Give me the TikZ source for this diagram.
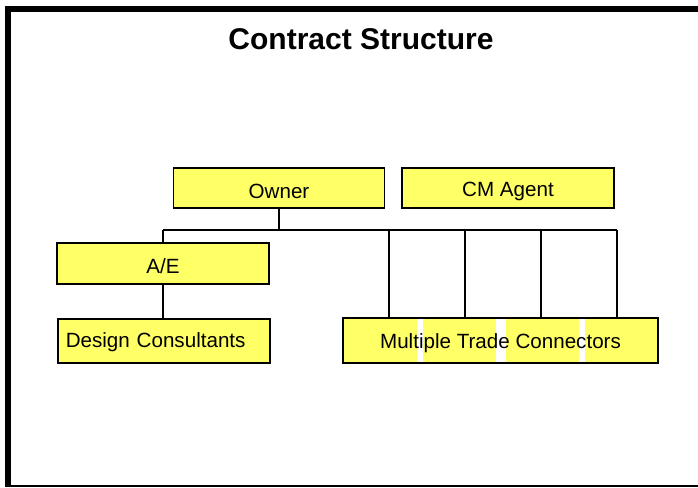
\documentclass[tikz,border=0pt]{standalone}
\usepackage{fontspec}
\setmainfont{Liberation Sans}
\usetikzlibrary{positioning}
\definecolor{boxyellow}{HTML}{FFFF66}

\begin{document}
\begin{tikzpicture}[x=1pt,y=-1pt,
    box/.style={draw,fill=boxyellow,line width=1.5pt,
      font=\fontsize{20.6}{24}\selectfont,inner sep=0pt,
      text depth=0pt,text height=17pt},
    link/.style={line width=1.5pt}]
  \useasboundingbox (0,0) rectangle (698,487);
  % frame
  \fill (5,6) rectangle (11,487);
  \fill (5,6) rectangle (698,12);
  \draw[line width=1.2pt] (11,486) -- (698,486);

  \node (title) [anchor=base,font=\fontsize{30}{36}\selectfont\bfseries]
    at (361,50) {Contract Structure};

  \node (owner) [box,minimum width=211,minimum height=40,text height=20pt]
    at (279,188) {Owner};
  \node (cm) [box,minimum width=212,minimum height=40,text height=16pt]
    at (508,188) {CM Agent};
  \node (ae) [box,minimum width=212,minimum height=41,text height=19pt]
    at (163,263.5) {A/E};
  \node (dc) [box,anchor=west,minimum height=44,text width=196pt,text height=12pt,
    inner xsep=8pt,align=left] at (57,341) {Design Consultants};
  \node (mtc) [box,minimum width=315,minimum height=45,text height=15pt,
    path picture={
      \foreach \a/\b in {74/80,153/163,236/242}
        \fill[white] ([xshift=\a pt]path picture bounding box.north west)
          rectangle ([xshift=\b pt]path picture bounding box.south west);
    }] at (500.5,340.5) {Multiple Trade Connectors};

  % connectors
  \draw[link] (owner.south) -- (owner.south |- 0,230) coordinate (bus);
  \draw[link] (ae.north |- bus) -- (617,230);
  \draw[link] (ae.north |- bus) -- (ae.north);
  \draw[link] (ae.south) -- (dc.north -| ae.south);
  \foreach \x in {389,465,541,617}
    \draw[link] (\x,230) -- (mtc.north -| \x,0);
\end{tikzpicture}
\end{document}
